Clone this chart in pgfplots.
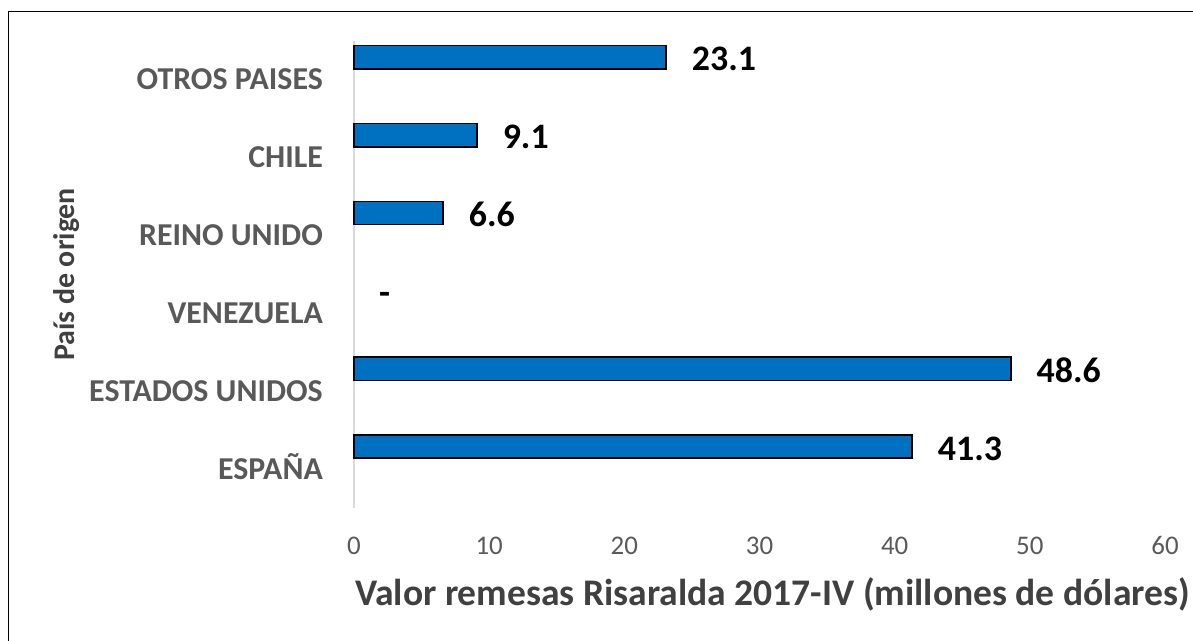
\documentclass[border=0pt]{standalone}
\usepackage{pgfplots}
\usepackage{pgfplotstable}
\pgfplotsset{compat=1.18}
\usepackage{fontspec}
\setmainfont{Carlito}
\definecolor{barblue}{RGB}{0,112,192}
\definecolor{lblgray}{RGB}{89,89,89}
\definecolor{titlegray}{RGB}{64,64,64}
\definecolor{axgray}{RGB}{217,217,217}

\pgfplotstableread{
y val lab
0 41.3 41.3
1 48.6 48.6
3 6.6 6.6
4 9.1 9.1
5 23.1 23.1
}\databars
\pgfplotstableread{
y val lab
2 0 -
}\datazero

\begin{document}
\begin{tikzpicture}
\path[use as bounding box] (0,0) rectangle (1193bp,641bp);
\draw[line width=1.5bp,black] (8.5bp,0) -- (8.5bp,629.5bp) -- (1193bp,629.5bp);
\begin{axis}[
  at={(354bp,133bp)}, anchor=south west,
  scale only axis, width=811bp, height=467bp,
  xbar, bar width=0.3, 
  xmin=0, xmax=60, ymin=-0.5, ymax=5.5,
  xtick={0,10,...,60},
  ytick={0,...,5},
  yticklabels={ESPAÑA,ESTADOS UNIDOS,VENEZUELA,REINO UNIDO,CHILE,OTROS PAISES},
  axis lines*=left,
  x axis line style={draw=none},
  y axis line style={draw=axgray, line width=1.5bp, -},
  major tick length=0pt,
  /pgf/number format/assume math mode=true,
  xticklabel style={font=\fontsize{27}{27}\selectfont, text=lblgray, anchor=base, inner sep=0pt, yshift=-46bp},
  yticklabel style={font=\fontsize{32}{32}\selectfont\bfseries, text=lblgray, anchor=base east, inner sep=0pt, xshift=-31bp, yshift=-10bp},
  clip=false,
  point meta=explicit symbolic,
  nodes near coords,
  every node near coord/.append style={font=\fontsize{36}{36}\selectfont\bfseries, text=black, anchor=base west, inner sep=0pt, xshift=25bp, yshift=-13.5bp},
]
\addplot[xbar, bar shift=0.29, fill=barblue, draw=black, line width=1.5bp] table[x=val, y=y, meta=lab] {\databars};
\addplot[xbar, bar shift=0.29, fill=none, draw=none] table[x=val, y=y, meta=lab] {\datazero};
\end{axis}
\node[rotate=90, anchor=base, font=\fontsize{30}{30}\selectfont\bfseries, text=titlegray] at (74bp,366.5bp) {País de origen};
\node[anchor=base, font=\fontsize{37.7}{37.7}\selectfont\bfseries, text=titlegray] at (772.5bp,36bp) {Valor remesas Risaralda 2017-IV (millones de dólares)};
\end{tikzpicture}
\end{document}
